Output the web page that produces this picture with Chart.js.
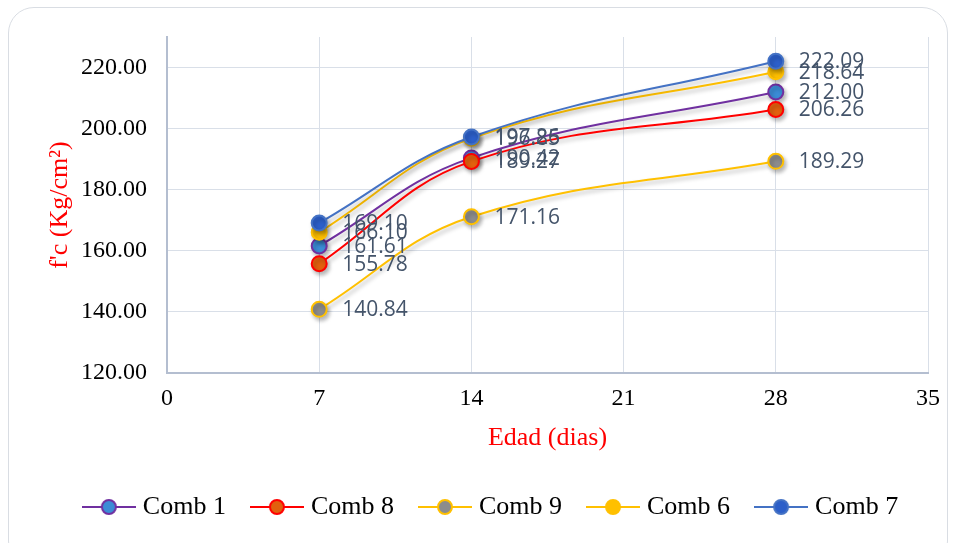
<!DOCTYPE html>
<html><head><meta charset="utf-8">
<script src="https://cdn.jsdelivr.net/npm/chart.js@4/dist/chart.umd.min.js"></script>
<style>
html,body{margin:0;padding:0;background:#fff;}
#wrap{position:relative;width:956px;height:543px;overflow:hidden;}
#frame{position:absolute;left:8px;top:7px;width:940px;height:560px;border:1.5px solid #d9dde3;border-radius:26px;pointer-events:none;box-sizing:border-box;}
canvas{position:absolute;left:0;top:0;}
</style></head><body>
<div id="wrap"><canvas id="c" width="956" height="543"></canvas><div id="frame"></div></div>
<script>
// ---- data ----
const ages = [7, 14, 28];
const seriesNames = ['Comb 1', 'Comb 8', 'Comb 9', 'Comb 6', 'Comb 7'];
const comb1 = [161.61, 190.42, 212.00];
const comb8 = [155.78, 189.27, 206.26];
const comb9 = [140.84, 171.16, 189.29];
const comb6 = [166.10, 196.85, 218.64];
const comb7 = [169.10, 197.26, 222.09];
const xTicks = [0, 7, 14, 21, 28, 35];
const yTicks = [120, 140, 160, 180, 200, 220];

// ---- styles ----
const seriesValues = [comb1, comb8, comb9, comb6, comb7];
const lineColors = ['#7030A0', '#FF0000', '#FFC000', '#FFC000', '#4472C4'];
const pointFills = ['#3B8CD6', '#E2600E', '#8C8C8C', '#FFC000', '#2C5FC9'];
const drawOrder = [4, 3, 2, 1, 0];

function makeMarker(line, fill) {
  const c = document.createElement('canvas');
  c.width = 54; c.height = 18;
  const x = c.getContext('2d');
  x.strokeStyle = line; x.lineWidth = 2;
  x.beginPath(); x.moveTo(0, 9); x.lineTo(54, 9); x.stroke();
  x.beginPath(); x.arc(27, 9, 7, 0, Math.PI * 2);
  x.fillStyle = fill; x.fill(); x.stroke();
  return c;
}
const markers = lineColors.map((l, i) => makeMarker(l, pointFills[i]));

const datasets = seriesNames.map((name, i) => ({
  label: name,
  data: ages.map((a, j) => ({x: a, y: seriesValues[i][j]})),
  borderColor: lineColors[i],
  backgroundColor: pointFills[i],
  pointBackgroundColor: pointFills[i],
  pointBorderColor: lineColors[i],
  pointBorderWidth: 2,
  pointRadius: 7.5,
  borderWidth: 2,
  tension: 0.4,
  fill: false,
  order: drawOrder[i],
  clip: false
}));

const shadowPlugin = {
  id: 'shadow',
  beforeDatasetsDraw(chart) {
    const c = chart.ctx; c.save();
    c.shadowColor = 'rgba(0,0,0,0.28)'; c.shadowBlur = 4; c.shadowOffsetX = 2; c.shadowOffsetY = 3;
  },
  afterDatasetsDraw(chart) { chart.ctx.restore(); }
};
const labelPlugin = {
  id: 'vlabels',
  afterDatasetsDraw(chart) {
    const c = chart.ctx; c.save();
    c.font = '21px "Open Sans"'; c.fillStyle = '#44546A';
    c.textAlign = 'left'; c.textBaseline = 'middle';
    chart.data.datasets.forEach((ds, i) => {
      const meta = chart.getDatasetMeta(i);
      meta.data.forEach((p, j) => {
        c.fillText(ds.data[j].y.toFixed(2), p.x + 23, p.y + 1);
      });
    });
    c.restore();
  }
};

new Chart(document.getElementById('c'), {
  type: 'line',
  data: {datasets},
  plugins: [shadowPlugin, labelPlugin],
  options: {
    responsive: false, animation: false, devicePixelRatio: 1,
    layout: {padding: {left: 30, right: 0, top: 37, bottom: 13}},
    plugins: {
      tooltip: {enabled: false},
      legend: {
        position: 'bottom', align: 'center',
        labels: {
          usePointStyle: true, pointStyleWidth: 42, padding: 30,
          color: '#000', font: {family: '"Liberation Serif"', size: 26},
          sort: (a, b) => a.datasetIndex - b.datasetIndex,
          generateLabels(chart) {
            const items = Chart.defaults.plugins.legend.labels.generateLabels(chart);
            items.forEach(it => { it.pointStyle = markers[it.datasetIndex]; });
            return items;
          }
        }
      }
    },
    scales: {
      x: {
        type: 'linear', min: 0, max: 35,
        afterBuildTicks: s => { s.ticks = xTicks.map(v => ({value: v})); },
        afterFit: s => { s.height = 91; },
        grid: {color: '#D9DFE8', lineWidth: 1, drawTicks: false},
        border: {color: '#B4BED0', width: 2},
        ticks: {padding: 11, color: '#000', font: {family: '"Liberation Serif"', size: 24}, maxRotation: 0},
        title: {display: true, text: 'Edad (dias)', color: '#FF0000', font: {family: '"Liberation Serif"', size: 26}, padding: {top: 0, bottom: 10}}
      },
      y: {
        type: 'linear', min: 120, max: 230,
        afterBuildTicks: s => { s.ticks = yTicks.map(v => ({value: v})); },
        afterFit: s => { s.width = 137; },
        grid: {color: '#D9DFE8', lineWidth: 1, drawTicks: false},
        border: {color: '#B4BED0', width: 2},
        ticks: {padding: 20, color: '#000', font: {family: '"Liberation Serif"', size: 24}, callback: v => v.toFixed(2)},
        title: {display: true, text: "f'c (Kg/cm²)", color: '#FF0000', font: {family: '"Liberation Serif"', size: 26}, padding: {top: 15, bottom: 0}}
      },
      yr: {
        type: 'linear', position: 'right', display: true,
        afterFit: s => { s.width = 28; },
        grid: {drawOnChartArea: false, drawTicks: false},
        border: {display: false},
        ticks: {display: false}
      }
    }
  }
});
</script>
</body></html>
